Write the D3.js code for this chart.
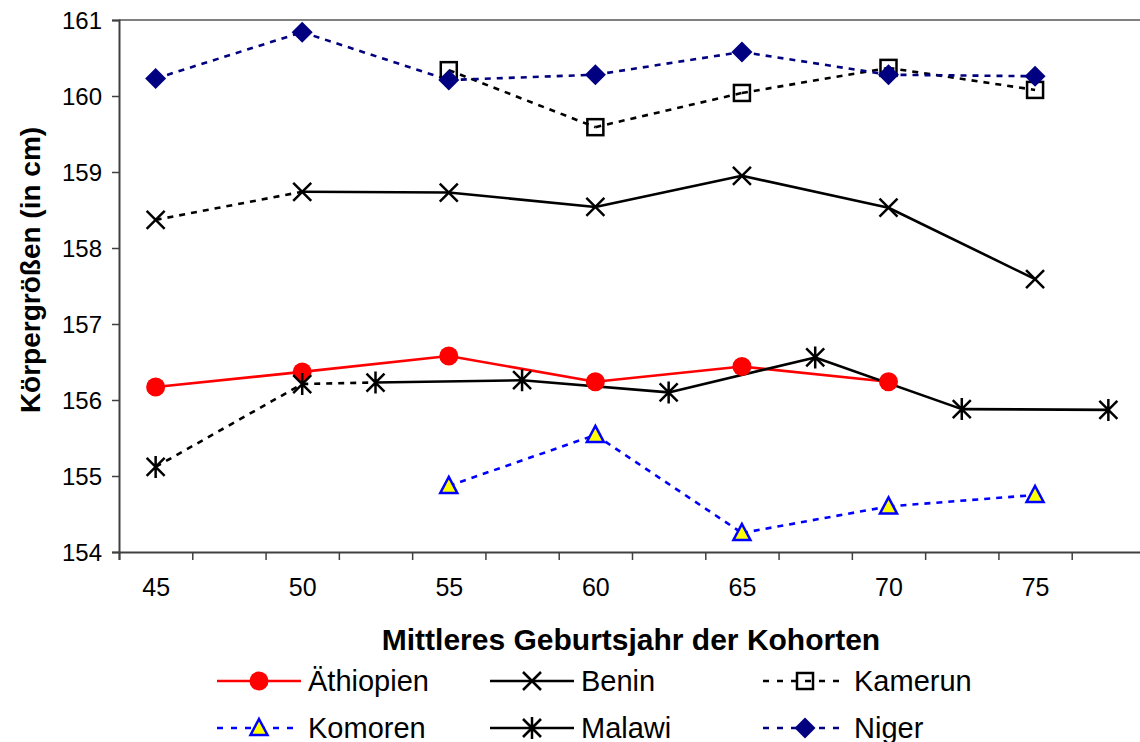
<!DOCTYPE html>
<html>
<head>
<meta charset="utf-8">
<script src="https://cdn.jsdelivr.net/npm/d3@7"></script>
<style>
  body { margin: 0; background: #fff; }
  svg { display: block; font-family: "Liberation Sans", Arial, sans-serif; }
</style>
</head>
<body>
<script>
// cohort axis: categories every 2.5 years, labels every 5
var cohortBounds = [43.75, 78.75];
var tickLabels = [45, 50, 55, 60, 65, 70, 75];
var yTicks = [154, 155, 156, 157, 158, 159, 160, 161];

var aethiopienX = [45, 50, 55, 60, 65, 70];
var aethiopien  = [156.17, 156.37, 156.58, 156.24, 156.44, 156.24];
var beninX = [45, 50, 55, 60, 65, 70, 75];
var benin  = [158.37, 158.74, 158.73, 158.54, 158.95, 158.53, 157.59];
var kamerunX = [55, 60, 65, 70, 75];
var kamerun  = [160.34, 159.59, 160.04, 160.37, 160.08];
var komorenX = [55, 60, 65, 70, 75];
var komoren  = [154.87, 155.54, 154.25, 154.60, 154.75];
var malawiX = [45, 50, 52.5, 57.5, 62.5, 67.5, 72.5, 77.5];
var malawi  = [155.12, 156.21, 156.23, 156.26, 156.10, 156.56, 155.88, 155.87];
var nigerX = [45, 50, 55, 60, 65, 70, 75];
var niger  = [160.23, 160.84, 160.21, 160.28, 160.58, 160.28, 160.26];

var series = [
  {name: "Äthiopien", xs: aethiopienX, ys: aethiopien, color: "#ff0000", marker: "circle", dashed: []},
  {name: "Benin", xs: beninX, ys: benin, color: "#000", marker: "x", dashed: [0]},
  {name: "Kamerun", xs: kamerunX, ys: kamerun, color: "#000", marker: "square", dashed: "all"},
  {name: "Komoren", xs: komorenX, ys: komoren, color: "#0000ff", marker: "triangle", dashed: "all"},
  {name: "Malawi", xs: malawiX, ys: malawi, color: "#000", marker: "star", dashed: [0, 1]},
  {name: "Niger", xs: nigerX, ys: niger, color: "#000080", marker: "diamond", dashed: "all"}
];

var W = 1140, H = 742,
    pL = 119, pT = 20, pR = 1145, pB = 552;

var svg = d3.select("body").append("svg").attr("width", W).attr("height", H);

var x = d3.scaleLinear().domain(cohortBounds).range([pL, pR]),
    y = d3.scaleLinear().domain([154, 161]).range([pB, pT]);

// plot frame (top edge grey)
svg.append("line").attr("x1", pL).attr("x2", pR).attr("y1", pT).attr("y2", pT)
    .attr("stroke", "#808080").attr("stroke-width", 2);

// y axis
var ya = svg.append("g").attr("transform", "translate(" + pL + ",0)")
    .call(d3.axisLeft(y).tickValues(yTicks).tickSize(7).tickPadding(10).tickFormat(d3.format("d")));
ya.select(".domain").attr("stroke", "#404040").attr("stroke-width", 2);
ya.selectAll(".tick line").attr("stroke", "#404040").attr("stroke-width", 1.5);
ya.selectAll("text").attr("font-size", 24).attr("fill", "#000").attr("dy", "0.36em");

// x axis: ticks at category boundaries, labels at centres
var bounds = d3.range(cohortBounds[0], cohortBounds[1] + 0.01, 2.5);
var xa = svg.append("g").attr("transform", "translate(0," + pB + ")")
    .call(d3.axisBottom(x).tickValues(bounds).tickSize(8).tickFormat(""));
xa.select(".domain").attr("stroke", "#404040").attr("stroke-width", 2);
xa.selectAll(".tick line").attr("stroke", "#404040").attr("stroke-width", 1.5);

var xl = svg.append("g").attr("transform", "translate(0," + pB + ")")
    .call(d3.axisBottom(x).tickValues(tickLabels).tickSize(0).tickPadding(26).tickFormat(d3.format("d")));
xl.select(".domain").remove();
xl.selectAll("text").attr("font-size", 25).attr("fill", "#000");

// axis titles
svg.append("text").attr("x", 631).attr("y", 650).attr("text-anchor", "middle")
    .attr("font-size", 30).attr("font-weight", "bold").text("Mittleres Geburtsjahr der Kohorten");
svg.append("text").attr("transform", "translate(40,270) rotate(-90)").attr("text-anchor", "middle")
    .attr("font-size", 28).attr("font-weight", "bold").text("Körpergrößen (in cm)");

function drawMarker(g, type, color) {
  var s = 9;
  if (type == "circle") {
    g.append("circle").attr("r", 9.5).attr("fill", color);
  } else if (type == "x" || type == "star") {
    g.append("path").attr("d", "M" + -s + "," + -s + "L" + s + "," + s + "M" + -s + "," + s + "L" + s + "," + -s +
        (type == "star" ? "M0," + (-s - 2) + "L0," + (s + 2) : ""))
      .attr("stroke", color).attr("stroke-width", 2.5).attr("fill", "none");
  } else if (type == "square") {
    g.append("rect").attr("x", -8).attr("y", -8).attr("width", 16).attr("height", 16)
      .attr("fill", "none").attr("stroke", "#000").attr("stroke-width", 2.5);
  } else if (type == "triangle") {
    g.append("path").attr("d", "M0,-9L8.5,7L-8.5,7Z")
      .attr("fill", "#ffff00").attr("stroke", "#0000ff").attr("stroke-width", 2.5);
  } else if (type == "diamond") {
    g.append("path").attr("d", "M0,-10.5L10.5,0L0,10.5L-10.5,0Z").attr("fill", color);
  }
}

// lines (all series first, then markers)
var lines = svg.append("g");
series.forEach(function(s) {
  for (var i = 0; i < s.xs.length - 1; i++) {
    var dashed = s.dashed === "all" || s.dashed.indexOf(i) >= 0;
    lines.append("line")
      .attr("x1", x(s.xs[i])).attr("y1", y(s.ys[i]))
      .attr("x2", x(s.xs[i + 1])).attr("y2", y(s.ys[i + 1]))
      .attr("stroke", s.color).attr("stroke-width", 2.6)
      .attr("stroke-dasharray", dashed ? "6,6" : null);
  }
});

var marks = svg.append("g");
series.forEach(function(s) {
  s.xs.forEach(function(v, i) {
    var g = marks.append("g").attr("transform", "translate(" + x(v) + "," + y(s.ys[i]) + ")");
    drawMarker(g, s.marker, s.color);
  });
});

// legend
var cols = [217, 490, 763], rows = [681, 728];
series.forEach(function(s, i) {
  var lx = cols[i % 3], ly = rows[Math.floor(i / 3)];
  var g = svg.append("g").attr("transform", "translate(" + lx + "," + ly + ")");
  g.append("line").attr("x1", 0).attr("x2", 84).attr("stroke", s.color).attr("stroke-width", 2.6)
    .attr("stroke-dasharray", s.dashed === "all" ? "6,8" : null);
  drawMarker(g.append("g").attr("transform", "translate(42,0)"), s.marker, s.color);
  g.append("text").attr("x", 91).attr("dy", "0.36em").attr("font-size", 29).text(s.name);
});
</script>
</body>
</html>
